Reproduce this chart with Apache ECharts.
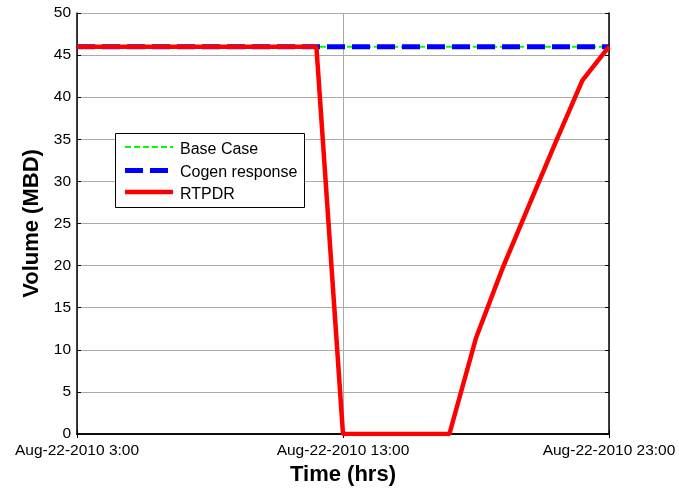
<!DOCTYPE html>
<html>
<head>
<meta charset="utf-8">
<script src="https://cdn.jsdelivr.net/npm/echarts@6/dist/echarts.min.js"></script>
<style>html,body{margin:0;padding:0;background:#fff;}#c{width:679px;height:488px;}</style>
</head>
<body>
<div id="c"></div>
<script>
var hours = ['3:00','4:00','5:00','6:00','7:00','8:00','9:00','10:00','11:00','12:00','13:00','14:00','15:00','16:00','17:00','18:00','19:00','20:00','21:00','22:00','23:00'];
var datePrefix = 'Aug-22-2010 ';
var baseCase = [46,46,46,46,46,46,46,46,46,46,46,46,46,46,46,46,46,46,46,46,46];
var cogenResponse = [46,46,46,46,46,46,46,46,46,46,46,46,46,46,46,46,46,46,46,46,46];
var rtpdr = [46,46,46,46,46,46,46,46,46,46,0,0,0,0,0,11.4,19.7,27.2,34.7,42,46];
var yTicks = [0,5,10,15,20,25,30,35,40,45,50];
var seriesNames = ['Base Case','Cogen response','RTPDR'];
var seriesColors = ['#00ff00','#0000ff','#ff0000'];
var seriesWidths = [2,5,4.5];
var seriesDash = [[6,3],[18,7],'solid'];

var FONT = 'Liberation Sans, Arial, sans-serif';

// legend drawn as graphic (box + sample lines + labels)
var legendBox = {x:115, y:133, w:189, h:74};
var legendRows = [147, 170.5, 192];
var legendTextRows = [149.5, 172.5, 195];
var legendGraphic = [{
  type:'rect', left:legendBox.x, top:legendBox.y, z:100,
  shape:{x:0,y:0,width:legendBox.w,height:legendBox.h},
  style:{fill:'#fff',stroke:'#000',lineWidth:1}
}];
seriesNames.forEach(function(n,i){
  legendGraphic.push({
    type:'line', z:101,
    shape:{x1:125,y1:legendRows[i],x2:173,y2:legendRows[i]},
    style:{stroke:seriesColors[i],lineWidth:seriesWidths[i],lineDash:seriesDash[i]==='solid'?null:seriesDash[i]}
  });
  legendGraphic.push({
    type:'text', z:101, x:180, y:legendTextRows[i],
    style:{text:n,fill:'#000',font:'16px '+FONT,textVerticalAlign:'middle',textAlign:'left'}
  });
});

var chart = echarts.init(document.getElementById('c'), null, {renderer:'canvas'});
chart.setOption({
  backgroundColor:'#fff',
  animation:false,
  grid:{left:77,right:70,top:13,bottom:54,containLabel:false,outerBoundsMode:'none'},
  graphic:legendGraphic,
  xAxis:[{
    type:'category', data:hours, boundaryGap:false,
    name:'Time (hrs)', nameLocation:'middle', nameGap:28,
    nameTextStyle:{fontFamily:FONT,fontSize:22,fontWeight:'bold',color:'#000'},
    axisLine:{lineStyle:{color:'#000',width:1.5}},
    axisTick:{show:true,inside:true,interval:9,length:4,lineStyle:{color:'#000'}},
    axisLabel:{interval:9,fontFamily:FONT,fontSize:15.5,color:'#000',margin:9,
      formatter:function(v){return datePrefix+v;}},
    splitLine:{show:true,interval:9,lineStyle:{color:'#aaa',width:1}}
  },{
    type:'category', data:hours, boundaryGap:false, position:'top',
    axisLine:{lineStyle:{color:'#000',width:1.5}},
    axisTick:{show:true,inside:true,interval:9,length:4,lineStyle:{color:'#000'}},
    axisLabel:{show:false}, splitLine:{show:false}
  }],
  yAxis:[{
    type:'value', min:0, max:50, interval:5,
    name:'Volume (MBD)', nameLocation:'middle', nameGap:31,
    nameTextStyle:{fontFamily:FONT,fontSize:22,fontWeight:'bold',color:'#000'},
    axisLine:{show:true,lineStyle:{color:'#000',width:1.5}},
    axisTick:{show:true,inside:true,length:4,lineStyle:{color:'#000'}},
    axisLabel:{fontFamily:FONT,fontSize:15.5,color:'#000',margin:6,
      formatter:function(v){return yTicks.indexOf(v)>=0?String(v):'';}},
    splitLine:{show:true,lineStyle:{color:'#aaa',width:1}}
  },{
    type:'value', min:0, max:50, interval:5, position:'right',
    axisLine:{show:true,lineStyle:{color:'#000',width:1.5}},
    axisTick:{show:true,inside:true,length:4,lineStyle:{color:'#000'}},
    axisLabel:{show:false}, splitLine:{show:false}
  }],
  series:[{
    name:seriesNames[0], type:'line', data:baseCase, symbol:'none', z:2,
    lineStyle:{color:seriesColors[0],width:seriesWidths[0],type:seriesDash[0]}
  },{
    name:seriesNames[1], type:'line', data:cogenResponse, symbol:'none', z:3,
    lineStyle:{color:seriesColors[1],width:seriesWidths[1],type:seriesDash[1]}
  },{
    name:seriesNames[2], type:'line', data:rtpdr, symbol:'none', z:4,
    lineStyle:{color:seriesColors[2],width:seriesWidths[2],type:seriesDash[2]}
  }]
});
</script>
</body>
</html>
